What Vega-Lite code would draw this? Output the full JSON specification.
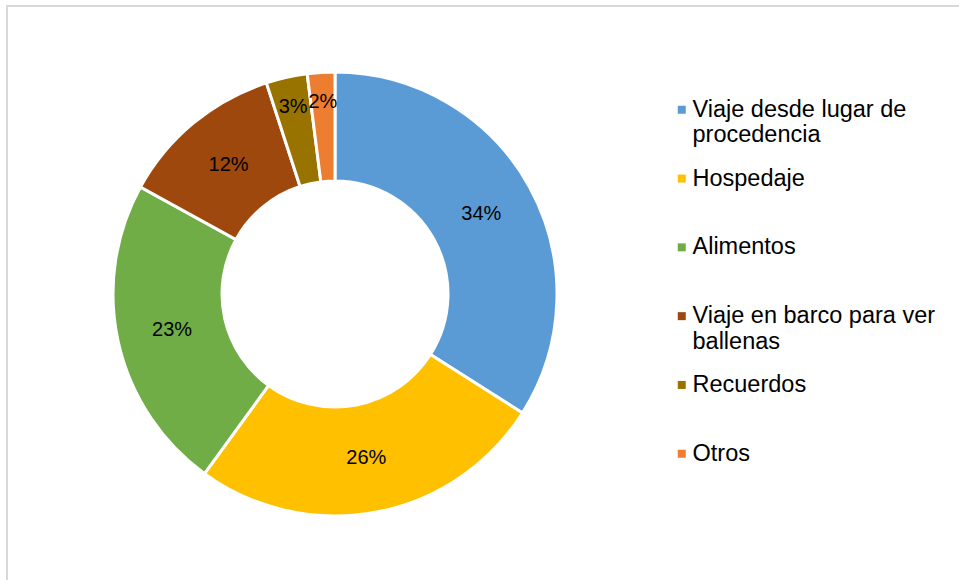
{
  "$schema": "https://vega.github.io/schema/vega-lite/v6.json",
  "width": 959,
  "height": 580,
  "autosize": {"type": "fit", "contains": "padding"},
  "padding": {"left": 7, "top": 6, "right": -6, "bottom": -6},
  "background": "white",
  "view": {"stroke": "#d9d9d9", "strokeWidth": 2},
  "config": {"view": {"stroke": "#d9d9d9", "strokeWidth": 2}, "font": "Liberation Sans"},
  "data": {
    "values": [
      {"category": "Viaje desde lugar de procedencia", "value": 0.34, "order": 1},
      {"category": "Hospedaje", "value": 0.26, "order": 2},
      {"category": "Alimentos", "value": 0.23, "order": 3},
      {"category": "Viaje en barco para ver ballenas", "value": 0.12, "order": 4},
      {"category": "Recuerdos", "value": 0.03, "order": 5},
      {"category": "Otros", "value": 0.02, "order": 6}
    ]
  },
  "encoding": {
    "theta": {"field": "value", "type": "quantitative", "stack": true},
    "order": {"field": "order", "type": "quantitative"}
  },
  "layer": [
    {
      "mark": {"type": "arc", "innerRadius": 113, "outerRadius": 222, "stroke": "white", "strokeWidth": 3, "xOffset": -151, "yOffset": -2},
      "encoding": {
        "color": {
          "field": "category",
          "type": "nominal",
          "sort": null,
          "scale": {
            "domain": ["Viaje desde lugar de procedencia", "Hospedaje", "Alimentos", "Viaje en barco para ver ballenas", "Recuerdos", "Otros"],
            "range": ["#5B9BD5", "#FFC000", "#70AD47", "#9E480E", "#997300", "#ED7D31"]
          },
          "legend": {
            "title": null,
            "orient": "none",
            "legendX": 663,
            "legendY": 92,
            "symbolType": "square",
            "symbolSize": 64,
            "symbolStrokeWidth": 0,
            "labelFontSize": 23.5,
            "labelColor": "#000000",
            "labelLimit": 400,
            "labelOffset": -1,
            "rowPadding": 18.8,
            "labelExpr": "datum.label == 'Viaje desde lugar de procedencia' ? ['Viaje desde lugar de', 'procedencia'] : datum.label == 'Viaje en barco para ver ballenas' ? ['Viaje en barco para ver', 'ballenas'] : [datum.label, '']",
            "encode": {"labels": {"update": {"lineHeight": {"value": 26}}}}
          }
        }
      }
    },
    {
      "mark": {"type": "text", "radius": 167, "fontSize": 20, "color": "#000000", "xOffset": -151, "yOffset": -2},
      "encoding": {
        "text": {"condition": {"test": "datum.value >= 0.05", "field": "value", "format": ".0%"}, "value": ""}
      }
    },
    {
      "mark": {"type": "text", "radius": 192, "fontSize": 20, "color": "#000000", "xOffset": -151, "yOffset": -2},
      "encoding": {
        "text": {"condition": {"test": "datum.value < 0.05", "field": "value", "format": ".0%"}, "value": ""}
      }
    }
  ]
}
